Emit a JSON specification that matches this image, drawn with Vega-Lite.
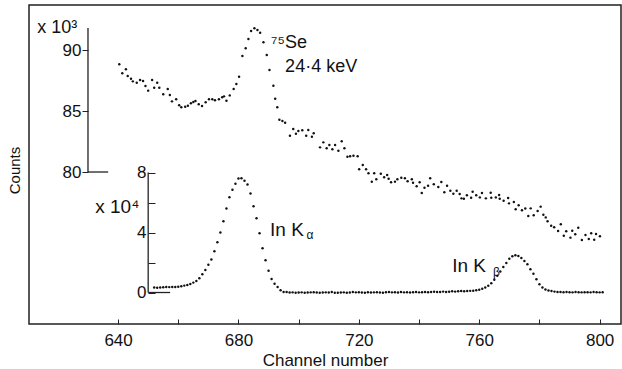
{
  "$schema": "https://vega.github.io/schema/vega-lite/v6.json",
  "autosize": "none",
  "width": 592,
  "height": 319,
  "padding": {"left": 29, "top": 5, "right": 1, "bottom": 45},
  "background": "white",
  "config": {
    "view": {"stroke": "#222", "strokeWidth": 1.5},
    "font": "Liberation Sans",
    "axis": {"labelFont": "Liberation Sans", "titleFont": "Liberation Sans", "labelColor": "#111", "titleColor": "#111", "tickColor": "#222", "domainColor": "#222", "grid": false, "titleFontWeight": "normal"}
  },
  "datasets": {
    "se": [
      {"ch":640.4,"v":88.83},{"ch":641.4,"v":88.09},{"ch":642.6,"v":88.42},{"ch":643.2,"v":87.87},{"ch":644.3,"v":87.65},{"ch":644.9,"v":87.43},{"ch":646.2,"v":87.32},{"ch":647.3,"v":87.54},{"ch":648.3,"v":87.46},{"ch":649.1,"v":87.05},{"ch":650.0,"v":86.67},{"ch":651.3,"v":87.54},{"ch":652.0,"v":86.91},{"ch":653.0,"v":87.32},{"ch":653.7,"v":86.91},{"ch":655.0,"v":86.37},{"ch":656.5,"v":86.8},{"ch":657.2,"v":86.31},{"ch":657.9,"v":85.79},{"ch":659.3,"v":85.96},{"ch":660.3,"v":85.47},{"ch":661.0,"v":85.3},{"ch":662.3,"v":85.35},{"ch":663.2,"v":85.43},{"ch":664.2,"v":85.63},{"ch":665.0,"v":85.74},{"ch":665.7,"v":85.82},{"ch":666.8,"v":85.55},{"ch":667.9,"v":85.41},{"ch":669.1,"v":85.71},{"ch":670.2,"v":85.96},{"ch":671.3,"v":85.96},{"ch":672.2,"v":85.88},{"ch":673.5,"v":85.96},{"ch":674.6,"v":86.12},{"ch":675.2,"v":86.2},{"ch":676.0,"v":85.84},{"ch":677.1,"v":86.28},{"ch":678.4,"v":86.8},{"ch":679.3,"v":87.21},{"ch":680.2,"v":87.81},{"ch":681.3,"v":89.51},{"ch":682.4,"v":90.14},{"ch":683.3,"v":90.9},{"ch":684.2,"v":91.56},{"ch":685.3,"v":91.78},{"ch":686.3,"v":91.64},{"ch":687.2,"v":91.42},{"ch":688.3,"v":90.63},{"ch":689.4,"v":89.59},{"ch":690.3,"v":88.36},{"ch":691.6,"v":87.07},{"ch":692.2,"v":86.01},{"ch":692.9,"v":85.3},{"ch":693.6,"v":84.29},{"ch":694.6,"v":84.18},{"ch":695.5,"v":84.04},{"ch":697.1,"v":82.97},{"ch":698.2,"v":83.52},{"ch":699.1,"v":83.14},{"ch":699.9,"v":83.36},{"ch":701.2,"v":83.42},{"ch":702.5,"v":82.97},{"ch":703.2,"v":83.44},{"ch":704.4,"v":82.89},{"ch":705.0,"v":83.17},{"ch":707.1,"v":82.02},{"ch":708.2,"v":82.43},{"ch":709.3,"v":81.94},{"ch":710.2,"v":82.21},{"ch":711.2,"v":81.86},{"ch":712.1,"v":82.21},{"ch":713.2,"v":81.75},{"ch":714.3,"v":82.52},{"ch":715.2,"v":81.94},{"ch":716.2,"v":81.25},{"ch":717.1,"v":81.29},{"ch":718.2,"v":81.34},{"ch":719.6,"v":81.29},{"ch":720.1,"v":80.22},{"ch":721.3,"v":80.57},{"ch":722.4,"v":80.22},{"ch":723.2,"v":79.89},{"ch":724.3,"v":79.2},{"ch":725.1,"v":79.89},{"ch":725.8,"v":79.4},{"ch":727.3,"v":79.86},{"ch":728.4,"v":79.57},{"ch":729.4,"v":79.75},{"ch":729.9,"v":79.45},{"ch":730.7,"v":79.16},{"ch":732.0,"v":79.21},{"ch":732.8,"v":79.4},{"ch":734.1,"v":79.53},{"ch":735.3,"v":79.48},{"ch":736.2,"v":79.24},{"ch":737.6,"v":79.4},{"ch":738.0,"v":79.12},{"ch":739.2,"v":78.83},{"ch":740.2,"v":79.16},{"ch":740.9,"v":78.28},{"ch":741.8,"v":78.71},{"ch":743.0,"v":78.88},{"ch":743.7,"v":79.48},{"ch":744.9,"v":78.99},{"ch":746.4,"v":78.77},{"ch":747.4,"v":79.18},{"ch":748.4,"v":78.34},{"ch":749.3,"v":78.88},{"ch":750.4,"v":78.47},{"ch":751.4,"v":78.22},{"ch":752.5,"v":78.47},{"ch":753.5,"v":78.2},{"ch":754.1,"v":77.84},{"ch":754.9,"v":77.81},{"ch":755.9,"v":78.09},{"ch":757.3,"v":77.89},{"ch":757.8,"v":78.38},{"ch":759.0,"v":78.09},{"ch":760.2,"v":77.92},{"ch":760.9,"v":78.28},{"ch":762.2,"v":77.84},{"ch":763.8,"v":78.3},{"ch":764.0,"v":77.89},{"ch":765.5,"v":77.92},{"ch":766.6,"v":78.11},{"ch":766.8,"v":77.81},{"ch":768.1,"v":77.65},{"ch":769.6,"v":77.87},{"ch":769.9,"v":77.43},{"ch":771.5,"v":77.54},{"ch":772.1,"v":76.94},{"ch":773.1,"v":77.27},{"ch":774.2,"v":76.86},{"ch":775.3,"v":77.0},{"ch":776.3,"v":76.39},{"ch":777.1,"v":77.02},{"ch":778.1,"v":76.45},{"ch":779.4,"v":76.8},{"ch":780.4,"v":77.16},{"ch":781.3,"v":76.5},{"ch":782.1,"v":76.28},{"ch":782.7,"v":75.96},{"ch":783.9,"v":75.6},{"ch":784.9,"v":75.47},{"ch":786.2,"v":75.16},{"ch":787.1,"v":75.71},{"ch":788.1,"v":74.78},{"ch":788.9,"v":75.14},{"ch":790.3,"v":74.62},{"ch":790.9,"v":75.19},{"ch":791.9,"v":74.89},{"ch":792.9,"v":75.43},{"ch":794.1,"v":74.42},{"ch":795.3,"v":74.84},{"ch":796.4,"v":74.51},{"ch":797.2,"v":74.98},{"ch":798.2,"v":74.45},{"ch":798.8,"v":74.92},{"ch":800.1,"v":74.73}
    ],
    "ink": [
      {"ch":652,"v":0.33},{"ch":653,"v":0.32},{"ch":654,"v":0.33},{"ch":655,"v":0.35},{"ch":656,"v":0.37},{"ch":657,"v":0.36},{"ch":658,"v":0.37},{"ch":659,"v":0.37},{"ch":660,"v":0.39},{"ch":661,"v":0.42},{"ch":662,"v":0.46},{"ch":663,"v":0.5},{"ch":664,"v":0.57},{"ch":665,"v":0.66},{"ch":666,"v":0.77},{"ch":667,"v":0.95},{"ch":668,"v":1.22},{"ch":669,"v":1.5},{"ch":670,"v":1.85},{"ch":671,"v":2.2},{"ch":672,"v":2.75},{"ch":673,"v":3.35},{"ch":674,"v":4.0},{"ch":675,"v":4.75},{"ch":676,"v":5.6},{"ch":677,"v":6.35},{"ch":678,"v":6.85},{"ch":679,"v":7.25},{"ch":680,"v":7.6},{"ch":681,"v":7.62},{"ch":682,"v":7.45},{"ch":683,"v":7.2},{"ch":684,"v":6.6},{"ch":685,"v":5.75},{"ch":686,"v":4.95},{"ch":687,"v":3.95},{"ch":688,"v":2.95},{"ch":689,"v":2.15},{"ch":690,"v":1.45},{"ch":691,"v":0.9},{"ch":692,"v":0.58},{"ch":693,"v":0.37},{"ch":694,"v":0.15},{"ch":695,"v":0.04},{"ch":696,"v":0.03},{"ch":697,"v":0.0},{"ch":698,"v":0.01},{"ch":699,"v":-0.01},{"ch":700,"v":0.0},{"ch":701,"v":0.01},{"ch":702,"v":-0.02},{"ch":703,"v":0.0},{"ch":704,"v":0.01},{"ch":705,"v":0.02},{"ch":706,"v":0.0},{"ch":707,"v":-0.02},{"ch":708,"v":0.0},{"ch":709,"v":0.01},{"ch":710,"v":0.0},{"ch":711,"v":0.03},{"ch":712,"v":-0.02},{"ch":713,"v":-0.01},{"ch":714,"v":0.0},{"ch":715,"v":0.01},{"ch":716,"v":-0.01},{"ch":717,"v":0.0},{"ch":718,"v":0.03},{"ch":719,"v":0.01},{"ch":720,"v":0.02},{"ch":721,"v":0.0},{"ch":722,"v":-0.01},{"ch":723,"v":0.02},{"ch":724,"v":0.0},{"ch":725,"v":0.01},{"ch":726,"v":0.02},{"ch":727,"v":0.0},{"ch":728,"v":-0.01},{"ch":729,"v":0.02},{"ch":730,"v":0.03},{"ch":731,"v":0.01},{"ch":732,"v":0.02},{"ch":733,"v":0.0},{"ch":734,"v":0.03},{"ch":735,"v":0.01},{"ch":736,"v":0.02},{"ch":737,"v":0.0},{"ch":738,"v":0.02},{"ch":739,"v":0.03},{"ch":740,"v":0.01},{"ch":741,"v":0.02},{"ch":742,"v":0.04},{"ch":743,"v":0.02},{"ch":744,"v":0.03},{"ch":745,"v":0.05},{"ch":746,"v":0.03},{"ch":747,"v":0.04},{"ch":748,"v":0.06},{"ch":749,"v":0.04},{"ch":750,"v":0.05},{"ch":751,"v":0.08},{"ch":752,"v":0.06},{"ch":753,"v":0.08},{"ch":754,"v":0.1},{"ch":755,"v":0.09},{"ch":756,"v":0.1},{"ch":757,"v":0.11},{"ch":758,"v":0.12},{"ch":759,"v":0.15},{"ch":760,"v":0.18},{"ch":761,"v":0.25},{"ch":762,"v":0.33},{"ch":763,"v":0.45},{"ch":764,"v":0.62},{"ch":765,"v":0.85},{"ch":766,"v":1.12},{"ch":767,"v":1.4},{"ch":768,"v":1.7},{"ch":769,"v":1.97},{"ch":770,"v":2.25},{"ch":771,"v":2.42},{"ch":772,"v":2.48},{"ch":773,"v":2.43},{"ch":774,"v":2.3},{"ch":775,"v":2.1},{"ch":776,"v":1.88},{"ch":777,"v":1.55},{"ch":778,"v":1.25},{"ch":779,"v":0.88},{"ch":780,"v":0.55},{"ch":781,"v":0.33},{"ch":782,"v":0.2},{"ch":783,"v":0.13},{"ch":784,"v":0.1},{"ch":785,"v":0.06},{"ch":786,"v":0.04},{"ch":787,"v":0.03},{"ch":788,"v":0.02},{"ch":789,"v":0.03},{"ch":790,"v":0.02},{"ch":791,"v":0.01},{"ch":792,"v":0.03},{"ch":793,"v":0.02},{"ch":794,"v":0.01},{"ch":795,"v":0.02},{"ch":796,"v":0.02},{"ch":797,"v":0.01},{"ch":798,"v":0.03},{"ch":799,"v":0.02},{"ch":800,"v":0.01},{"ch":801,"v":0.02}
    ],
    "seText": [
      {"ch":690.8,"v":90.16,"t":"⁷⁵Se"},
      {"ch":695.5,"v":88.2,"t":"24·4 keV"},
      {"ch":613.1,"v":91.39,"t":"x 10³"}
    ],
    "inText": [
      {"ch":632.4,"v":5.3,"t":"x 10⁴"},
      {"ch":690.5,"v":3.77,"t":"In K"},
      {"ch":751.0,"v":1.37,"t":"In K"}
    ],
    "inSub": [
      {"ch":702.6,"v":3.55,"t":"α"},
      {"ch":764.6,"v":1.1,"t":"β"}
    ]
  },
  "resolve": {"scale": {"y": "independent"}, "axis": {"y": "independent"}},
  "layer": [
    {
      "layer": [
        {
          "data": {"name": "se"},
          "mark": {"type": "circle", "size": 6, "color": "#111", "opacity": 1},
          "encoding": {
            "x": {"field": "ch", "type": "quantitative",
              "scale": {"domain": [610.4, 807.1], "nice": false, "zero": false},
              "axis": {"values": [640, 660, 680, 700, 720, 740, 760, 780, 800], "labelExpr": "datum.value % 40 === 0 ? datum.label : ''", "tickSize": -5, "labelPadding": 13, "labelFontSize": 17, "domain": false, "title": "Channel number", "titleFontSize": 17, "titlePadding": 4}},
            "y": {"field": "v", "type": "quantitative",
              "scale": {"domain": [67.54, 93.69], "nice": false, "zero": false},
              "axis": {"orient": "left", "offset": -59, "values": [80, 85, 90], "tickSize": 6, "labelPadding": 1, "labelFontSize": 17, "domain": false,
                "title": "Counts", "titleFontSize": 15, "titleX": -74, "titleY": 165, "titleAngle": 270, "titleAlign": "center", "titleBaseline": "middle"}}
          }
        },
        {
          "data": {"values": [{}]},
          "mark": {"type": "rule", "color": "#222", "strokeWidth": 1.3},
          "encoding": {"x": {"datum": 630, "type": "quantitative"}, "y": {"datum": 80, "type": "quantitative"}, "y2": {"datum": 91.8}}
        },
        {
          "data": {"values": [{}]},
          "mark": {"type": "rule", "color": "#222", "strokeWidth": 1.3},
          "encoding": {"x": {"datum": 630, "type": "quantitative"}, "x2": {"datum": 636.7}, "y": {"datum": 80, "type": "quantitative"}}
        },
        {
          "data": {"name": "seText"},
          "mark": {"type": "text", "align": "left", "baseline": "alphabetic", "fontSize": 18, "color": "#111"},
          "encoding": {"x": {"field": "ch", "type": "quantitative"}, "y": {"field": "v", "type": "quantitative"}, "text": {"field": "t"}}
        }
      ]
    },
    {
      "layer": [
        {
          "data": {"name": "ink"},
          "mark": {"type": "circle", "size": 6, "color": "#111", "opacity": 1},
          "encoding": {
            "x": {"field": "ch", "type": "quantitative"},
            "y": {"field": "v", "type": "quantitative",
              "scale": {"domain": [-2.1, 19.17], "nice": false, "zero": false},
              "axis": {"orient": "left", "offset": -119, "values": [0, 2, 4, 6, 8], "labelExpr": "datum.value % 4 === 0 ? datum.label : ''", "tickSize": -7, "labelPadding": 9, "labelFontSize": 17, "domain": false, "title": null}}
          }
        },
        {
          "data": {"values": [{}]},
          "mark": {"type": "rule", "color": "#222", "strokeWidth": 1.3},
          "encoding": {"x": {"datum": 650, "type": "quantitative"}, "y": {"datum": 0, "type": "quantitative"}, "y2": {"datum": 8}}
        },
        {
          "data": {"values": [{}]},
          "mark": {"type": "rule", "color": "#222", "strokeWidth": 1.3},
          "encoding": {"x": {"datum": 650, "type": "quantitative"}, "x2": {"datum": 657.3}, "y": {"datum": 0, "type": "quantitative"}}
        },
        {
          "data": {"name": "inText"},
          "mark": {"type": "text", "align": "left", "baseline": "alphabetic", "fontSize": 19, "color": "#111"},
          "encoding": {"x": {"field": "ch", "type": "quantitative"}, "y": {"field": "v", "type": "quantitative"}, "text": {"field": "t"}}
        },
        {
          "data": {"name": "inSub"},
          "mark": {"type": "text", "align": "left", "baseline": "alphabetic", "fontSize": 12, "color": "#111"},
          "encoding": {"x": {"field": "ch", "type": "quantitative"}, "y": {"field": "v", "type": "quantitative"}, "text": {"field": "t"}}
        }
      ]
    }
  ]
}
